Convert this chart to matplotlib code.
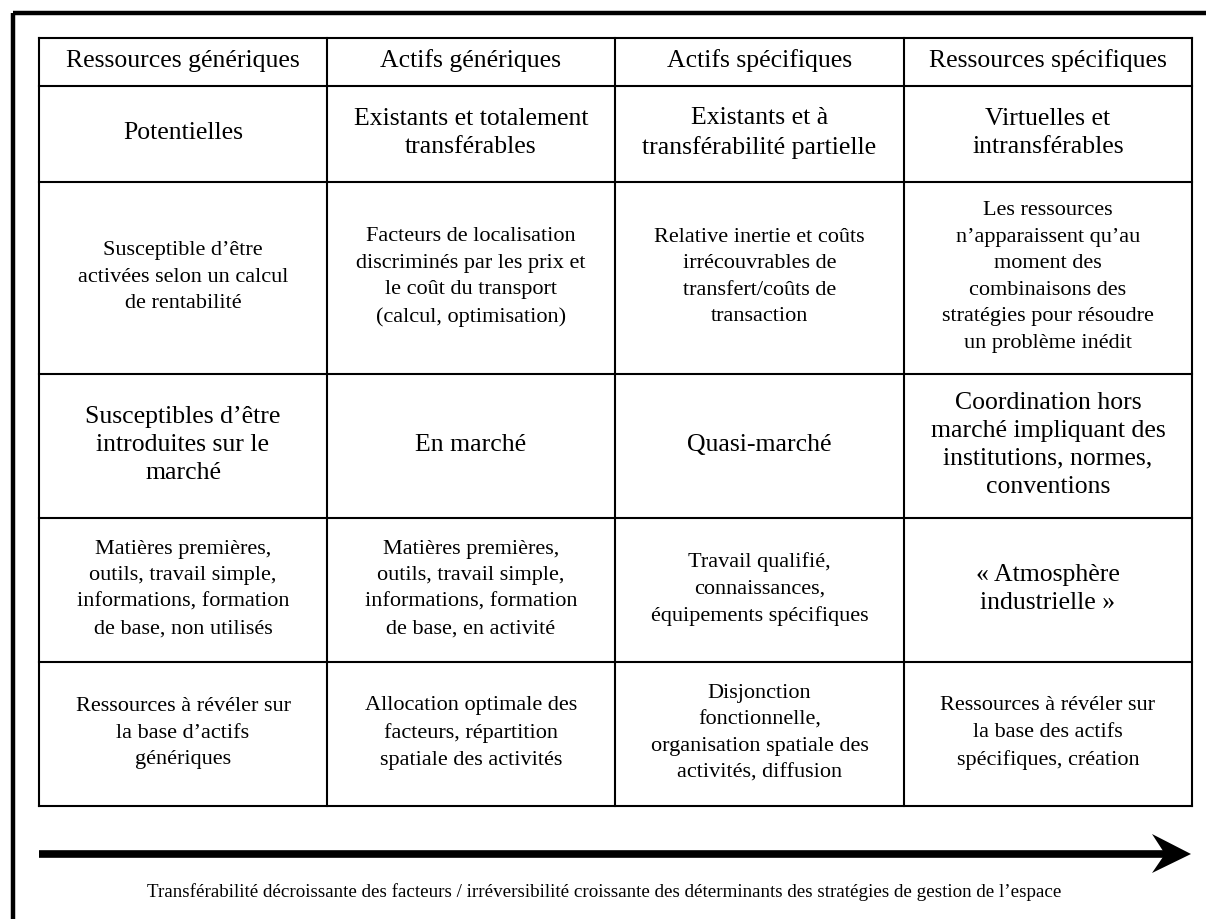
import matplotlib
matplotlib.use("Agg")
import matplotlib.pyplot as plt
from matplotlib.patches import Polygon

plt.rcParams['font.family'] = ['Liberation Serif', 'DejaVu Serif']

# table content, row by row
header = ["Ressources génériques", "Actifs génériques",
          "Actifs spécifiques", "Ressources spécifiques"]
row_nature = ["Potentielles",
              "Existants et totalement\ntransférables",
              "Existants et à\ntransférabilité partielle",
              "Virtuelles et\nintransférables"]
row_mode = ["Susceptible d’être\nactivées selon un calcul\nde rentabilité",
            "Facteurs de localisation\ndiscriminés par les prix et\nle coût du transport\n(calcul, optimisation)",
            "Relative inertie et coûts\nirrécouvrables de\ntransfert/coûts de\ntransaction",
            "Les ressources\nn’apparaissent qu’au\nmoment des\ncombinaisons des\nstratégies pour résoudre\nun problème inédit"]
row_market = ["Susceptibles d’être\nintroduites sur le\nmarché",
              "En marché",
              "Quasi-marché",
              "Coordination hors\nmarché impliquant des\ninstitutions, normes,\nconventions"]
row_examples = ["Matières premières,\noutils, travail simple,\ninformations, formation\nde base, non utilisés",
                "Matières premières,\noutils, travail simple,\ninformations, formation\nde base, en activité",
                "Travail qualifié,\nconnaissances,\néquipements spécifiques",
                "« Atmosphère\nindustrielle »"]
row_strategy = ["Ressources à révéler sur\nla base d’actifs\ngénériques",
                "Allocation optimale des\nfacteurs, répartition\nspatiale des activités",
                "Disjonction\nfonctionnelle,\norganisation spatiale des\nactivités, diffusion",
                "Ressources à révéler sur\nla base des actifs\nspécifiques, création"]
rows = [header, row_nature, row_mode, row_market, row_examples, row_strategy]
# which cells use the larger type
big = [[1, 1, 1, 1], [1, 1, 1, 1], [0, 0, 0, 0],
       [1, 1, 1, 1], [0, 0, 0, 1], [0, 0, 0, 0]]
caption = ("Transférabilité décroissante des facteurs / irréversibilité croissante "
           "des déterminants des stratégies de gestion de l’espace")

# layout in pixels
W, H = 1206, 919
col_edges = [39, 327, 615, 904, 1192]
row_edges = [38, 86, 182, 374, 518, 662, 806]

fig = plt.figure(figsize=(W / 100, H / 100), dpi=100)
ax = fig.add_axes([0, 0, 1, 1])
ax.set_xlim(0, W)
ax.set_ylim(H, 0)
ax.axis('off')

# outer frame (cut at right and bottom)
ax.plot([13, W + 5], [13, 13], color='black', lw=3.2, solid_capstyle='butt')
ax.plot([13, 13], [13, H + 5], color='black', lw=3.2, solid_capstyle='butt')

# grid
for x in col_edges:
    ax.plot([x, x], [row_edges[0], row_edges[-1]], color='black', lw=1.5)
for y in row_edges:
    ax.plot([col_edges[0], col_edges[-1]], [y, y], color='black', lw=1.5)

for i, row in enumerate(rows):
    yc = (row_edges[i] + row_edges[i + 1]) / 2
    for j, txt in enumerate(row):
        xc = (col_edges[j] + col_edges[j + 1]) / 2
        size = 18.5 if big[i][j] else 16
        ax.text(xc, yc - 1, txt, ha='center', va='center', fontsize=size,
                linespacing=1.34 if big[i][j] else 1.53)

# arrow
ax.plot([39, 1165], [854, 854], color='black', lw=5.5, solid_capstyle='butt')
ax.add_patch(Polygon([[1191, 854], [1152, 834], [1165, 854], [1152, 873]],
                     closed=True, color='black', lw=0))

ax.text(604, 892, caption, ha='center', va='center', fontsize=13.7)

fig.savefig("out.png", dpi=100)
